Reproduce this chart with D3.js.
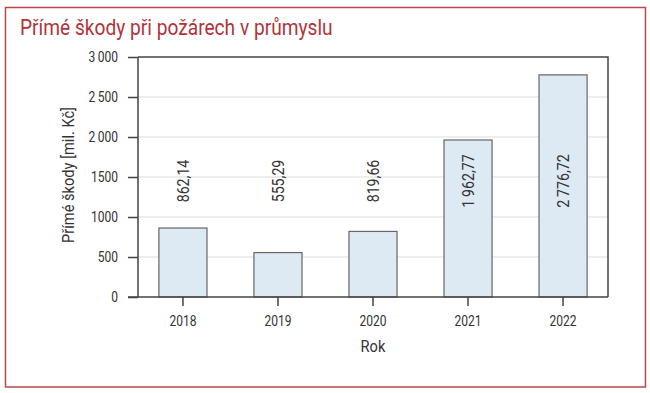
<!DOCTYPE html>
<html>
<head>
<meta charset="utf-8">
<script src="https://cdn.jsdelivr.net/npm/d3@7"></script>
<style>
  body { margin: 0; background: #fff; }
  svg text { font-family: Roboto, "Noto Sans", sans-serif; }
</style>
</head>
<body>
<svg id="chart" width="650" height="393"></svg>
<script>
const years = ['2018', '2019', '2020', '2021', '2022'];
const damages = [862.14, 555.29, 819.66, 1962.77, 2776.72];
const valueLabels = ['862,14', '555,29', '819,66', '1\u2009962,77', '2\u2009776,72'];
const yTicks = [0, 500, 1000, 1500, 2000, 2500, 3000];
const yTickLabels = ['0', '500', '1000', '1500', '2\u2009000', '2\u2009500', '3\u2009000'];

const svg = d3.select('#chart');
const margin = { top: 57, right: 42, bottom: 96, left: 138 };
const width = 650 - margin.left - margin.right;
const height = 393 - margin.top - margin.bottom;

// the original uses a condensed face; squeeze Roboto to mimic it
function condense (selection, k = 0.86) {
  selection.each(function () {
    const len = this.getComputedTextLength();
    d3.select(this)
      .attr('textLength', len * k)
      .attr('lengthAdjust', 'spacingAndGlyphs');
  });
}

// outer frame + title
svg.append('rect')
  .attr('x', 5.5).attr('y', 7.5)
  .attr('width', 640).attr('height', 379.5)
  .style('fill', 'none')
  .style('stroke', '#b9474b')
  .style('stroke-width', 1.5);

svg.append('text')
  .attr('x', 20).attr('y', 35)
  .style('font-size', '22px')
  .style('fill', '#b2333a')
  .text('Přímé škody při požárech v průmyslu')
  .call(condense, 0.87);

const g = svg.append('g').attr('transform', `translate(${margin.left},${margin.top})`);

const x = d3.scaleBand()
  .domain(years)
  .range([0, width])
  .paddingInner(0.494)
  .paddingOuter(0.22);

const y = d3.scaleLinear()
  .domain([0, 3000])
  .range([height, 0]);

// grid
g.append('g')
  .selectAll('line')
  .data(yTicks.slice(1, -1))
  .join('line')
  .attr('x1', 0).attr('x2', width)
  .attr('y1', d => y(d)).attr('y2', d => y(d))
  .style('stroke', '#dedede')
  .style('stroke-width', 1.2);

// bars
g.append('g')
  .selectAll('rect')
  .data(damages)
  .join('rect')
  .attr('x', (d, i) => x(years[i]))
  .attr('y', d => y(d))
  .attr('width', x.bandwidth())
  .attr('height', d => height - y(d))
  .style('fill', '#dde9f3')
  .style('stroke', '#666')
  .style('stroke-width', 1.2);

// value labels (all at the same height)
g.append('g')
  .selectAll('text')
  .data(valueLabels)
  .join('text')
  .attr('transform', (d, i) => `translate(${x(years[i]) + x.bandwidth() / 2},${y(1450)}) rotate(-90)`)
  .attr('text-anchor', 'middle')
  .attr('dy', '0.35em')
  .style('font-size', '16.5px')
  .style('fill', '#333')
  .text(d => d)
  .call(condense);

// frame: top and right
g.append('path')
  .attr('d', `M0,0H${width}V${height}`)
  .style('fill', 'none')
  .style('stroke', '#444')
  .style('stroke-width', 1.5);

// y axis
const yAxis = g.append('g')
  .call(d3.axisLeft(y).tickValues(yTicks).tickSize(10).tickPadding(10)
    .tickFormat((d, i) => yTickLabels[i]));
yAxis.select('.domain').style('stroke', '#444').style('stroke-width', 1.5)
  .attr('d', `M0,0V${height}`);
yAxis.selectAll('.tick line').style('stroke', '#444').style('stroke-width', 1.5);
yAxis.selectAll('.tick text').style('font-size', '14px').style('fill', '#333').call(condense);

// x axis
const xAxis = g.append('g')
  .attr('transform', `translate(0,${height})`)
  .call(d3.axisBottom(x).tickSize(9).tickPadding(10));
xAxis.select('.domain').style('stroke', '#444').style('stroke-width', 1.5)
  .attr('d', `M-10,0H${width}`);
xAxis.selectAll('.tick line').style('stroke', '#444').style('stroke-width', 1.5);
xAxis.selectAll('.tick text').style('font-size', '14px').style('fill', '#333').call(condense);

// axis titles
g.append('text')
  .attr('x', width / 2).attr('y', height + 55)
  .attr('text-anchor', 'middle')
  .style('font-size', '17px')
  .style('fill', '#333')
  .text('Rok')
  .call(condense);

g.append('text')
  .attr('transform', `translate(${68 - margin.left},${height / 2 - 2}) rotate(-90)`)
  .attr('text-anchor', 'middle')
  .attr('dy', '0.35em')
  .style('font-size', '17px')
  .style('fill', '#333')
  .text('Přímé škody [mil. Kč]')
  .call(condense);
</script>
</body>
</html>
